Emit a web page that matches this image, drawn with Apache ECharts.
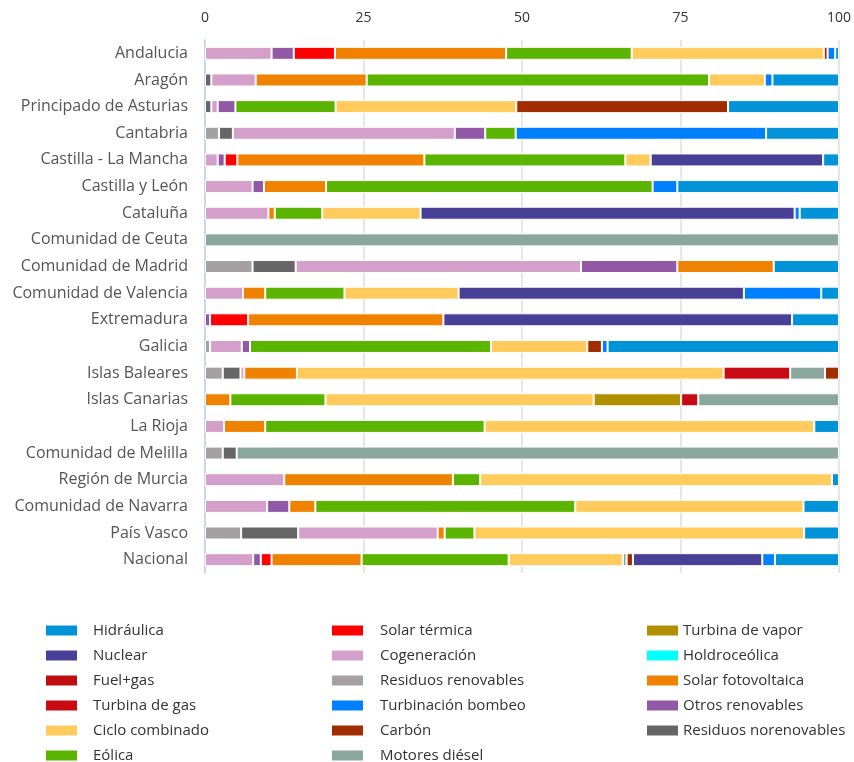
<!DOCTYPE html>
<html style="height:100%">
<head>
    <meta charset="utf-8">
    <title>Generación por comunidad</title>
    <script src="https://cdn.jsdelivr.net/npm/echarts@6/dist/echarts.min.js"></script>
</head>
<body style="height:100%;margin:0">
    <div id="main" style="width:854px;height:762px;"></div>
    <script type="text/javascript">
        var regiones = ['Andalucia', 'Aragón', 'Principado de Asturias', 'Cantabria', 'Castilla - La Mancha',
            'Castilla y León', 'Cataluña', 'Comunidad de Ceuta', 'Comunidad de Madrid', 'Comunidad de Valencia',
            'Extremadura', 'Galicia', 'Islas Baleares', 'Islas Canarias', 'La Rioja', 'Comunidad de Melilla',
            'Región de Murcia', 'Comunidad de Navarra', 'País Vasco', 'Nacional'];

        var xTicks = [0, 25, 50, 75, 100];

        // % de cada tecnologia, mismo orden que regiones
        var residuosRenovables   = [0, 0, 0, 2.2, 0, 0, 0, 0, 7.5, 0, 0, 0.8, 2.8, 0, 0, 2.8, 0, 0, 5.7, 0];
        var residuosNorenovables = [0, 1, 1, 2.2, 0, 0, 0, 0, 6.8, 0, 0, 0, 2.8, 0, 0, 2.2, 0, 0, 9, 0];
        var cogeneracion         = [10.5, 7, 1, 35, 2, 7.5, 10, 0, 45, 6, 0, 5, 0.6, 0, 3, 0, 12.5, 9.8, 22, 7.6];
        var otrosRenovables      = [3.5, 0, 2.8, 4.8, 1.1, 1.8, 0, 0, 15.2, 0, 0.8, 1.3, 0, 0, 0, 0, 0, 3.5, 0, 1.2];
        var solarTermica         = [6.5, 0, 0, 0, 2, 0, 0, 0, 0, 0, 6, 0, 0, 0, 0, 0, 0, 0, 0, 1.7];
        var solarFotovoltaica    = [27, 17.5, 0, 0, 29.5, 9.8, 1, 0, 15.2, 3.5, 30.8, 0, 8.3, 4, 6.5, 0, 26.6, 4.1, 1.1, 14.2];
        var eolica               = [19.8, 54, 15.8, 4.8, 31.7, 51.5, 7.5, 0, 0, 12.5, 0, 38, 0, 15, 34.6, 0, 4.3, 41, 4.7, 23.2];
        var cicloCombinado       = [30.3, 8.8, 28.5, 0, 4, 0, 15.5, 0, 0, 18, 0, 15.2, 67.3, 42.3, 52, 0, 55.5, 36, 52, 18];
        var turbinaVapor         = [0, 0, 0, 0, 0, 0, 0, 0, 0, 0, 0, 0, 0, 13.8, 0, 0, 0, 0, 0, 0];
        var fuelGas              = [0, 0, 0, 0, 0, 0, 0, 0, 0, 0, 0, 0, 0, 0, 0, 0, 0, 0, 0, 0];
        var turbinaGas           = [0, 0, 0, 0, 0, 0, 0, 0, 0, 0, 0, 0, 10.5, 2.7, 0, 0, 0, 0, 0, 0];
        var holdroceolica        = [0, 0, 0, 0, 0, 0, 0, 0, 0, 0, 0, 0, 0, 0, 0, 0, 0, 0, 0, 0];
        var motoresDiesel        = [0, 0, 0, 0, 0, 0, 0, 100, 0, 0, 0, 0, 5.5, 22.2, 0, 95, 0, 0, 0, 0.6];
        var carbon               = [0.6, 0, 33.4, 0, 0, 0, 0, 0, 0, 0, 0, 2.3, 2.2, 0, 0, 0, 0, 0, 0, 1];
        var nuclear              = [0, 0, 0, 0, 27.2, 0, 59, 0, 0, 45, 55, 0, 0, 0, 0, 0, 0, 0, 0, 20.4];
        var turbinacionBombeo    = [1.2, 1.2, 0, 39.5, 0, 3.9, 0.8, 0, 0, 12.2, 0, 0.9, 0, 0, 0, 0, 0, 0, 0, 2];
        var hidraulica           = [0.6, 10.5, 17.5, 11.5, 2.5, 25.5, 6.2, 0, 10.3, 2.8, 7.4, 36.5, 0, 0, 3.9, 0, 1.1, 5.6, 5.5, 10.1];

        // orden de apilado (de izquierda a derecha)
        var tecnologias = [
            ['Residuos renovables', residuosRenovables, '#a5a0a2'],
            ['Residuos norenovables', residuosNorenovables, '#666666'],
            ['Cogeneración', cogeneracion, '#d49fcb'],
            ['Otros renovables', otrosRenovables, '#9159a5'],
            ['Solar térmica', solarTermica, '#ff0000'],
            ['Solar fotovoltaica', solarFotovoltaica, '#ef8200'],
            ['Eólica', eolica, '#5ab400'],
            ['Ciclo combinado', cicloCombinado, '#ffcb5c'],
            ['Turbina de vapor', turbinaVapor, '#b08f00'],
            ['Fuel+gas', fuelGas, '#c00d10'],
            ['Turbina de gas', turbinaGas, '#c80a12'],
            ['Holdroceólica', holdroceolica, '#00ffff'],
            ['Motores diésel', motoresDiesel, '#8ba69c'],
            ['Carbón', carbon, '#a02c00'],
            ['Nuclear', nuclear, '#483f96'],
            ['Turbinación bombeo', turbinacionBombeo, '#0080ff'],
            ['Hidráulica', hidraulica, '#0093d8']
        ];

        var myChart = echarts.init(document.getElementById('main'));

        var series = tecnologias.map(function (t) {
            return {
                name: t[0],
                type: 'bar',
                stack: 'total',
                barWidth: 13,
                itemStyle: {
                    color: t[2],
                    borderColor: '#fff',
                    borderWidth: 1
                },
                data: t[1].map(function (v) { return v > 0 ? v : '-'; })
            };
        });

        function legendCol(left, names, pad) {
            return {
                orient: 'vertical',
                left: left,
                top: 623,
                height: 150,
                padding: 0,
                itemWidth: 33,
                itemHeight: 12,
                itemGap: 10,
                icon: 'rect',
                textStyle: {
                    color: '#333',
                    fontSize: 15,
                    fontFamily: 'Open Sans',
                    padding: [0, 0, 0, pad]
                },
                data: names
            };
        }

        var option = {
            backgroundColor: '#fff',
            animation: false,
            legend: [
                legendCol(44, ['Hidráulica', 'Nuclear', 'Fuel+gas', 'Turbina de gas', 'Ciclo combinado', 'Eólica'], 10),
                legendCol(330, ['Solar térmica', 'Cogeneración', 'Residuos renovables', 'Turbinación bombeo', 'Carbón', 'Motores diésel'], 11),
                legendCol(645, ['Turbina de vapor', 'Holdroceólica', 'Solar fotovoltaica', 'Otros renovables', 'Residuos norenovables'], -1)
            ],
            grid: {
                left: 205,
                right: 13,
                top: 40,
                height: 533
            },
            xAxis: {
                type: 'value',
                position: 'top',
                min: xTicks[0],
                max: xTicks[xTicks.length - 1],
                interval: 25,
                axisLine: { show: false },
                axisTick: { show: false },
                axisLabel: {
                    color: '#333',
                    fontSize: 14,
                    fontFamily: 'Open Sans',
                    margin: 15
                },
                splitLine: {
                    lineStyle: { color: '#e6e6e6', width: 2 }
                }
            },
            yAxis: {
                type: 'category',
                inverse: true,
                data: regiones,
                axisLine: {
                    show: true,
                    lineStyle: { color: '#ccd6eb', width: 2 }
                },
                axisTick: { show: false },
                axisLabel: {
                    color: '#555',
                    fontSize: 16,
                    fontFamily: 'Open Sans',
                    margin: 17
                }
            },
            series: series
        };

        myChart.setOption(option);
    </script>
</body>
</html>
